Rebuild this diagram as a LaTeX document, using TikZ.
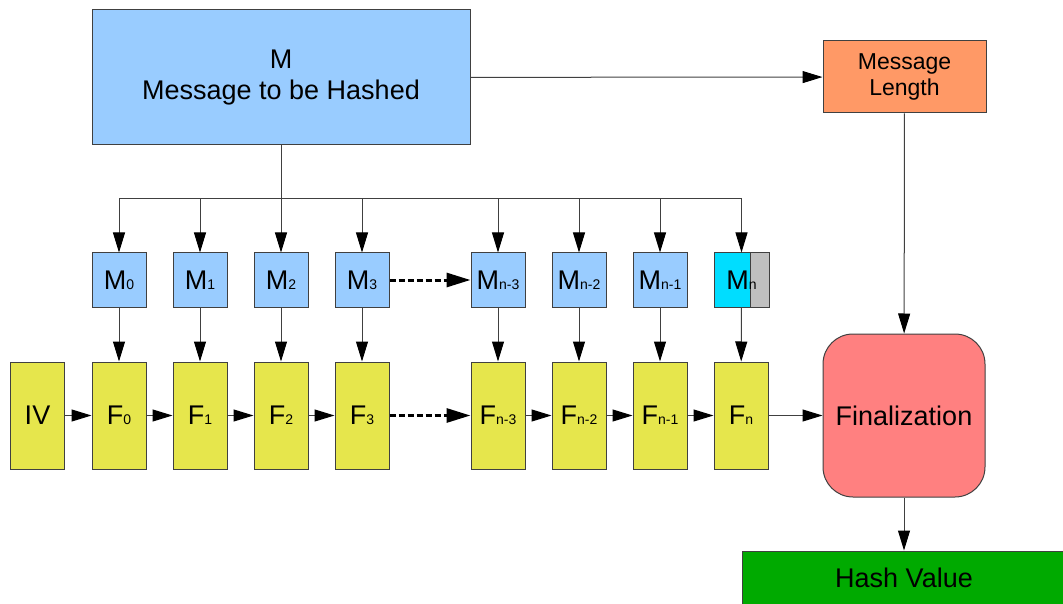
\documentclass[tikz,border=0pt]{standalone}
\usepackage{fontspec}
\setmainfont{Liberation Sans}
\usetikzlibrary{arrows.meta}

\definecolor{msgblue}{HTML}{99CCFF}
\definecolor{roundyellow}{HTML}{E6E64C}
\definecolor{lastcyan}{HTML}{00DDFF}
\definecolor{padgray}{HTML}{C0C0C0}
\definecolor{lenorange}{HTML}{FF9966}
\definecolor{finred}{HTML}{FF8080}
\definecolor{hashgreen}{HTML}{00AA00}

% small index next to a block letter
\newcommand{\idx}[1]{{\fontsize{14}{14}\selectfont #1}}

\begin{document}
\begin{tikzpicture}[x=1pt, y=-1pt,
	block/.style={draw=black!75, line width=1pt, inner sep=0pt, font=\fontsize{27}{31}\selectfont},
	mblock/.style={block, fill=msgblue, minimum width=54pt, minimum height=54pt},
	fblock/.style={block, fill=roundyellow, minimum width=54pt, minimum height=107pt},
	link/.style={-{Triangle[length=20pt, width=12pt, color=black]}, draw=black!75, line width=1pt},
	skip/.style={-{Triangle[length=24pt, width=14pt]}, line width=3pt, dash pattern=on 6pt off 3pt}]
	\useasboundingbox (0, 0) rectangle (1063, 604);

	\node[block, fill=msgblue, minimum width=378pt, minimum height=135pt, align=center] (msg) at (281, 77.5) {M\\Message to be Hashed};
	\node[block, fill=lenorange, minimum width=163pt, minimum height=72pt, align=center, font=\fontsize{23}{26}\selectfont] (mlen) at (904.5, 77) {Message\\Length};
	\node[block, fill=finred, minimum width=162pt, minimum height=163pt, rounded corners=30pt] (fin) at (904, 415.5) {Finalization};
	\node[block, fill=hashgreen, minimum width=324pt, minimum height=54pt] (hash) at (904, 578) {Hash Value};

	% message blocks and compression steps
	\node[fblock] (iv) at (37.5, 415.5) {IV};
	\foreach \x/\n/\s in {119/0/0, 200/1/1, 281/2/2, 362/3/3, 498/n3/n-3, 579/n2/n-2, 660/n1/n-1} {
		\node[mblock] (m\n) at (\x, 280) {M\idx{\s}};
		\node[fblock] (f\n) at (\x, 415.5) {F\idx{\s}};
	}
	\node[mblock, minimum width=55pt, fill=lastcyan, path picture={
		\fill[padgray] ([xshift=-19pt]path picture bounding box.north east) rectangle (path picture bounding box.south east);
		\draw[black!75, line width=1pt] ([xshift=-19pt]path picture bounding box.north east) -- ([xshift=-19pt]path picture bounding box.south east);
	}] (mn) at (741.5, 280) {M\idx{n}};
	\node[fblock] (fn) at (741, 415.5) {F\idx{n}};

	% splitting the message
	\coordinate (bus) at (281, 199);
	\draw[draw=black!75, line width=1pt] (msg.south) -- (bus);
	\draw[draw=black!75, line width=1pt] (m0.north |- bus) -- (mn.north |- bus);
	\foreach \n in {0, 1, 2, 3, n3, n2, n1, n} {
		\draw[link] (m\n.north |- bus) -- (m\n.north);
		\draw[link] (m\n) -- (f\n);
	}

	% chaining
	\foreach \a/\b in {iv/f0, f0/f1, f1/f2, f2/f3, fn3/fn2, fn2/fn1, fn1/fn, fn/fin}
		\draw[link] (\a) -- (\b);
	\draw[skip] (m3) -- (mn3);
	\draw[skip] (f3) -- (fn3);

	\draw[link] (msg) -- (mlen);
	\draw[link] (mlen) -- (fin);
	\draw[link] (fin) -- (hash);
\end{tikzpicture}
\end{document}
